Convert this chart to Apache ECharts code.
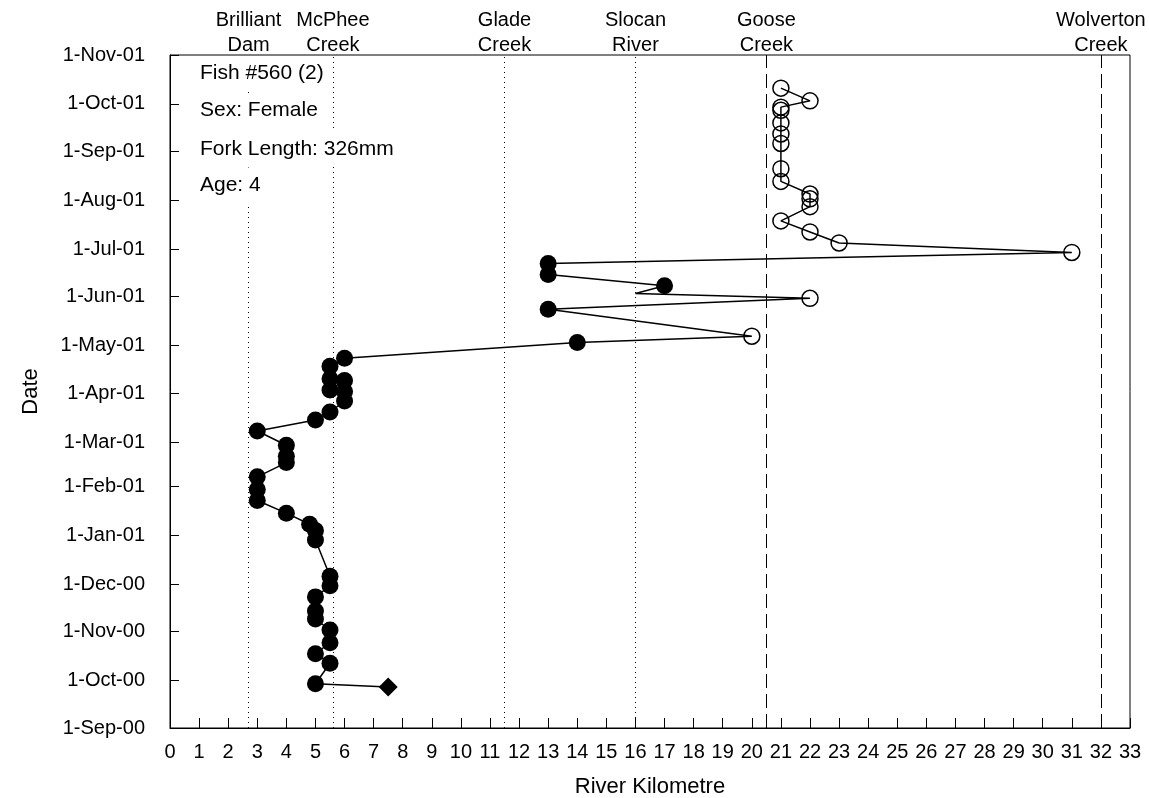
<!DOCTYPE html>
<html>
<head>
<meta charset="utf-8">
<script src="https://cdn.jsdelivr.net/npm/echarts@6/dist/echarts.min.js"></script>
<style>
html,body{margin:0;padding:0;background:#fff;}
#chart{width:1149px;height:798px;}
</style>
</head>
<body>
<div id="chart"></div>
<script>
// ---- data ----
const detectDates = [
  '2000-09-27','2000-09-29','2000-10-12','2000-10-18','2000-10-25','2000-11-02','2000-11-09','2000-11-14',
  '2000-11-23','2000-11-30','2000-12-06','2000-12-29','2001-01-04','2001-01-08','2001-01-15','2001-01-23',
  '2001-01-30','2001-02-07','2001-02-16','2001-02-20','2001-02-27','2001-03-08','2001-03-15','2001-03-20',
  '2001-03-27','2001-04-02','2001-04-03','2001-04-09','2001-04-10','2001-04-18','2001-04-23','2001-05-03',
  '2001-05-07','2001-05-24','2001-05-31','2001-06-03','2001-06-08','2001-06-15','2001-06-22','2001-06-29',
  '2001-07-05','2001-07-12','2001-07-19','2001-07-28','2001-08-02','2001-08-05','2001-08-13','2001-08-21',
  '2001-09-06','2001-09-12','2001-09-19','2001-09-27','2001-09-29','2001-10-03','2001-10-11'
];
const detectKm = [
  7.5, 5.0, 5.5, 5.0, 5.5, 5.5, 5.0, 5.0,
  5.0, 5.5, 5.5, 5.0, 5.0, 4.8, 4.0, 3.0,
  3.0, 3.0, 4.0, 4.0, 4.0, 3.0, 5.0, 5.5,
  6.0, 6.0, 5.5, 6.0, 5.5, 5.5, 6.0, 14.0,
  20.0, 13.0, 22.0, 16.0, 17.0, 13.0, 13.0, 31.0,
  23.0, 22.0, 21.0, 22.0, 22.0, 22.0, 21.0, 21.0,
  21.0, 21.0, 21.0, 21.0, 21.0, 22.0, 21.0
];
const detectType = [
  'release','filled','filled','filled','filled','filled','filled','filled',
  'filled','filled','filled','filled','filled','filled','filled','filled',
  'filled','filled','filled','filled','filled','filled','filled','filled',
  'filled','filled','filled','filled','filled','filled','filled','filled',
  'open','filled','open','none','filled','filled','filled','open',
  'open','open','open','open','open','open','open','open',
  'open','open','open','open','open','open','open'
];
const landmarkKm = [2.7, 5.6, 11.5, 16.0, 20.5, 32.0];
const landmarkNames = ['Brilliant\nDam','McPhee\nCreek','Glade\nCreek','Slocan\nRiver','Goose\nCreek','Wolverton\nCreek'];
const monthTicks = [
  '2000-09-01','2000-10-01','2000-11-01','2000-12-01','2001-01-01','2001-02-01','2001-03-01','2001-04-01',
  '2001-05-01','2001-06-01','2001-07-01','2001-08-01','2001-09-01','2001-10-01','2001-11-01'
];
const xTicksMin = 0, xTicksMax = 33;
const infoLines = ['Fish #560 (2)','Sex: Female','Fork Length: 326mm','Age: 4'];
const xTitle = 'River Kilometre';
const yTitle = 'Date';

// ---- helpers ----
const FONT = "'Liberation Sans', Arial, sans-serif";
const MONTHS = ['Jan','Feb','Mar','Apr','May','Jun','Jul','Aug','Sep','Oct','Nov','Dec'];
function ts(s){ const p = s.split('-').map(Number); return Date.UTC(p[0], p[1]-1, p[2]); }
function fmt(v){ const d = new Date(v); return d.getUTCDate() + '-' + MONTHS[d.getUTCMonth()] + '-' + String(d.getUTCFullYear()).slice(2); }

const allPts = detectDates.map((d,i)=>[detectKm[i], ts(d)]);
const pick = t => detectDates.map((d,i)=>detectType[i]===t ? [detectKm[i], ts(d)] : null).filter(Boolean);
const tickTs = monthTicks.map(ts);
const lmTypes = [[1,4],[1,4],[1,4],[1,4],[14,6],[14,6]];
const infoY = [73.5,110.5,149,185.5];
const infoPad = [[5,2,7,0],[7,2,7,0],[7,2,7,0],[7,2,8,0]];

const chart = echarts.init(document.getElementById('chart'), null, {renderer:'canvas'});
chart.setOption({
  animation:false,
  backgroundColor:'#fff',
  textStyle:{fontFamily:FONT},
  grid:{left:170, right:19, top:55, bottom:70, show:true, borderColor:'#000', borderWidth:1,
        backgroundColor:'transparent', outerBoundsMode:'none', containLabel:false},
  xAxis:{
    type:'value', min:xTicksMin, max:xTicksMax, interval:1,
    name:xTitle, nameLocation:'middle', nameGap:48,
    nameTextStyle:{fontSize:22, color:'#000', fontFamily:FONT},
    axisLine:{lineStyle:{color:'#000', width:1}},
    axisTick:{inside:true, length:10, lineStyle:{color:'#000'}},
    axisLabel:{color:'#000', fontSize:20, margin:14, fontFamily:FONT},
    splitLine:{show:false}
  },
  yAxis:{
    type:'value', min:tickTs[0], max:tickTs[tickTs.length-1],
    name:yTitle, nameLocation:'middle', nameGap:128, nameRotate:90,
    nameTextStyle:{fontSize:22, color:'#000', fontFamily:FONT},
    axisLine:{lineStyle:{color:'#000', width:1}},
    axisTick:{inside:true, length:9, lineStyle:{color:'#000'}, customValues:tickTs},
    axisLabel:{color:'#000', fontSize:20, margin:25, fontFamily:FONT, customValues:tickTs, formatter:v=>fmt(v), hideOverlap:false},
    splitLine:{show:false}
  },
  series:[
    {
      type:'line', data:allPts, symbol:'none', z:2,
      lineStyle:{color:'#000', width:1.5},
      markLine:{
        silent:true, symbol:'none', z:1,
        data: landmarkKm.map((k,i)=>({
          xAxis:k,
          lineStyle:{color:'#000', width:1, type:lmTypes[i]},
          label:{formatter:landmarkNames[i]}
        })),
        label:{show:true, position:'end', distance:-3, color:'#000', fontSize:20, lineHeight:25, fontFamily:FONT, align:'center'}
      }
    },
    {
      type:'scatter', data:pick('filled'), symbol:'circle', symbolSize:17, z:3,
      itemStyle:{color:'#000', opacity:1}
    },
    {
      type:'scatter', data:pick('open'), symbol:'circle', symbolSize:16, z:3,
      itemStyle:{color:'rgba(0,0,0,0)', borderColor:'#000', borderWidth:1.5, opacity:1}
    },
    {
      type:'scatter', data:pick('release'), symbol:'diamond', symbolSize:[19,19], z:3,
      itemStyle:{color:'#000', opacity:1}
    }
  ],
  graphic: infoLines.map((t,i)=>({
    type:'text', x:200, y:infoY[i], z:10,
    style:{text:t, font:'21px ' + FONT, fill:'#000', verticalAlign:'middle', backgroundColor:'#fff', padding:infoPad[i]}
  }))
});
</script>
</body>
</html>
